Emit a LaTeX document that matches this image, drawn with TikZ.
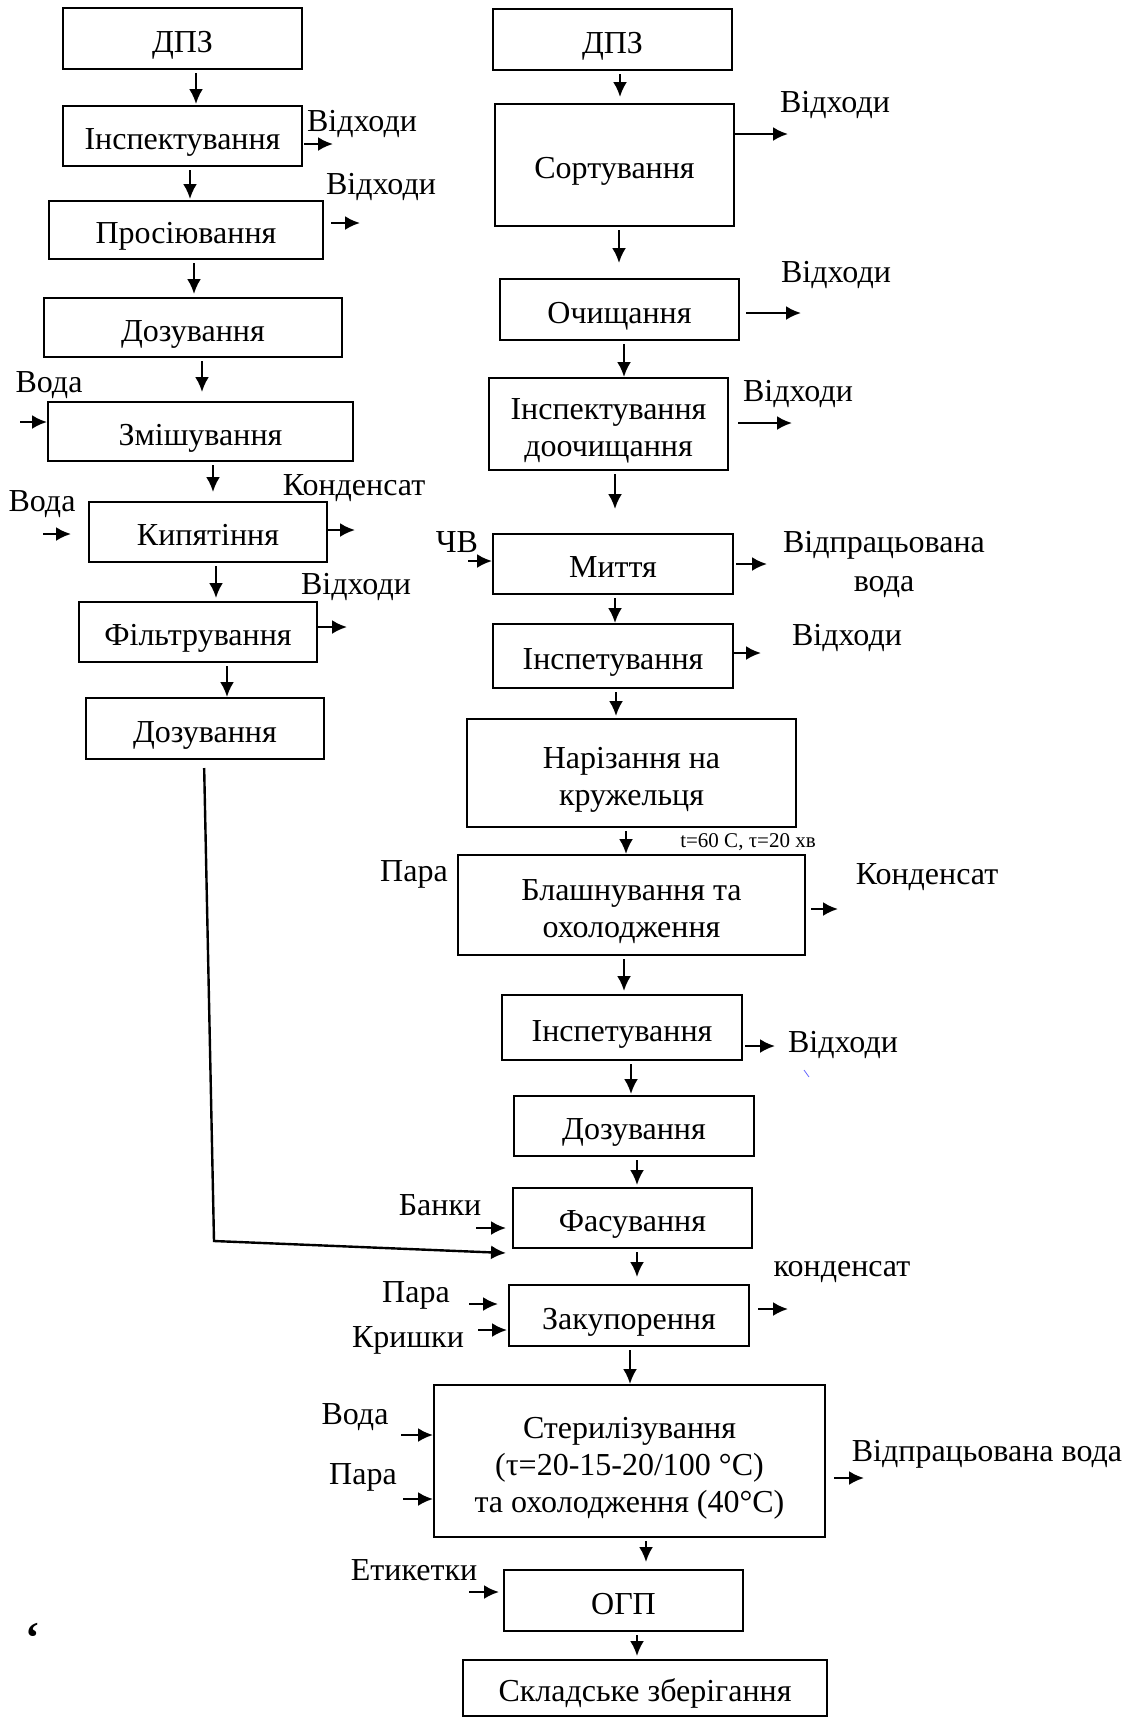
\documentclass[tikz,border=0pt]{standalone}
\usepackage{fontspec}
\setmainfont{Liberation Serif}
\usetikzlibrary{arrows.meta}
\tikzset{>={Latex[length=15pt,width=14pt]}}
\tikzstyle{stage}=[rectangle,draw,line width=2pt,align=center,inner sep=0pt,font=\fontsize{32}{37}\selectfont,
    execute at begin node={\rule[-8pt]{0pt}{43pt}}]
\tikzstyle{lbl}=[inner sep=0pt,align=center,font=\fontsize{32}{39}\selectfont]
\tikzstyle{flow}=[->,line width=2.4pt,shorten <=3pt]
\tikzset{multi/.style={execute at begin node={\rule{0pt}{#1}}}}

\begin{document}
\begin{tikzpicture}[x=1pt,y=-1pt]
    \useasboundingbox (0,0) rectangle (1127,1717);

    % left line: brine
    \node[stage,minimum width=239pt,minimum height=61pt] (dpzL) at (182.5,38.5) {ДПЗ};
    \node[stage,minimum width=239pt,minimum height=60pt] (inspL) at (182.5,136) {Інспектування};
    \node[stage,minimum width=274pt,minimum height=58pt] (sieve) at (186,230) {Просіювання};
    \node[stage,minimum width=298pt,minimum height=59pt] (dosL) at (193,327.5) {Дозування};
    \node[stage,minimum width=305pt,minimum height=59pt] (mix) at (200.5,431.5) {Змішування};
    \node[stage,minimum width=238pt,minimum height=60pt] (boil) at (208,532) {Кипятіння};
    \node[stage,minimum width=238pt,minimum height=60pt] (filt) at (198,632) {Фільтрування};
    \node[stage,minimum width=238pt,minimum height=61pt] (dosL2) at (205,728.5) {Дозування};

    % right line: vegetables
    \node[stage,minimum width=239pt,minimum height=61pt] (dpzR) at (612.5,39.5) {ДПЗ};
    \node[stage,minimum width=239pt,minimum height=122pt] (sort) at (614.5,165) {Сортування};
    \node[stage,minimum width=239pt,minimum height=61pt] (clean) at (619.5,309.5) {Очищання};
    \node[stage,multi=73pt,minimum width=239pt,minimum height=92pt] (inspR) at (608.5,424) {Інспектування\\доочищання};
    \node[stage,minimum width=240pt,minimum height=60pt] (wash) at (613,564) {Миття};
    \node[stage,minimum width=240pt,minimum height=64pt] (insp2) at (613,656) {Інспетування};
    \node[stage,multi=73pt,minimum width=329pt,minimum height=108pt] (cut) at (631.5,773) {Нарізання на\\кружельця};
    \node[stage,multi=73pt,minimum width=347pt,minimum height=100pt] (blanch) at (631.5,905) {Блашнування та\\охолодження};
    \node[stage,minimum width=240pt,minimum height=65pt] (insp3) at (622,1027.5) {Інспетування};
    \node[stage,minimum width=240pt,minimum height=60pt] (dosR) at (634,1126) {Дозування};
    \node[stage,minimum width=239pt,minimum height=60pt] (fill) at (632.5,1218) {Фасування};
    \node[stage,minimum width=240pt,minimum height=61pt] (seal) at (629,1315.5) {Закупорення};
    \node[stage,multi=110pt,minimum width=391pt,minimum height=152pt] (steril) at (629.5,1461) {Стерилізування\\(τ=20-15-20/100 °C)\\та охолодження (40°C)};
    \node[stage,minimum width=239pt,minimum height=61pt] (ogp) at (623.5,1600.5) {ОГП};
    \node[stage,minimum width=364pt,minimum height=56pt] (store) at (645,1688) {Складське зберігання};

    % flow between stages
    \foreach \a/\b/\x/\g in {dpzL/inspL/196/1, inspL/sieve/190/1, sieve/dosL/194/3, dosL/mix/202/9,
        mix/boil/213/9, boil/filt/216/3, filt/dosL2/227/0,
        dpzR/sort/620/6, sort/clean/619/15, clean/inspR/624/0, inspR/wash/615/24, wash/insp2/615/0,
        insp2/cut/616/2, cut/blanch/626/0, blanch/insp3/624/3, insp3/dosR/631/1, dosR/fill/637/2,
        fill/seal/637/7, seal/steril/630/0, steril/ogp/646/7, ogp/store/637/3} {
        \draw[flow,shorten >=\g pt] (\a.south -| \x,0) -- (\b.north -| \x,0);
    };

    % outputs
    \foreach \b/\x/\y/\g in {inspL/333/144/1, sieve/360/223/7, boil/355/530/0, filt/347/627/0,
        sort/788/134/0, clean/801/313/6, inspR/792/423/9, wash/767/564/2, insp2/761/653/0,
        blanch/838/909/5, insp3/775/1046/2, seal/788/1309/8, steril/864/1478/8} {
        \coordinate (out-\b) at (\x,\y);
        \draw[flow,shorten <=\g pt] (\b.east |- out-\b) -- (out-\b);
    };

    % inputs
    \foreach \i/\b/\x/\y/\g in {1/mix/20/422/0, 2/boil/43/534/17, 3/wash/468/561/0, 4/fill/476/1228/6,
        5/seal/469/1304/10, 6/seal/478/1330/1, 7/steril/401/1435/0, 8/steril/403/1499/0, 9/ogp/469/1592/4} {
        \coordinate (in\i) at (\x,\y);
        \draw[flow,shorten <=0pt,shorten >=\g pt] (in\i) -- (\b.west |- in\i);
    };

    % brine goes to filling
    \coordinate (turn) at (214,1241);
    \draw[flow,shorten <=8pt] (dosL2.south -| 204,0) -- (turn) -- ([xshift=-6pt,yshift=-4pt]fill.south west);

    % labels
    \node[lbl] (w1) at (362,124) {Відходи};
    \node[lbl] (w2) at (381,187) {Відходи};
    \node[lbl] (v1) at (49,385) {Вода};
    \node[lbl] (k1) at (354,488) {Конденсат};
    \node[lbl] (v2) at (42,504) {Вода};
    \node[lbl] (w3) at (356,587) {Відходи};

    \node[lbl] (w4) at (835,105) {Відходи};
    \node[lbl] (w5) at (836,275) {Відходи};
    \node[lbl] (w6) at (798,394) {Відходи};
    \node[lbl] (cw) at (457,542) {ЧВ};
    \node[lbl] (ww1) at (884,564) {Відпрацьована\\вода};
    \node[lbl] (w7) at (847,638) {Відходи};
    \node[lbl,font=\fontsize{21}{24}\selectfont] (mode) at (748,842) {t=60 C, τ=20 хв};
    \node[lbl] (p1) at (414,874) {Пара};
    \node[lbl] (k2) at (927,877) {Конденсат};
    \node[lbl] (w8) at (843,1045) {Відходи};
    \node[lbl] (jars) at (440,1205) {Банки};
    \node[lbl] (k3) at (842,1272) {конденсат};
    \node[lbl] (p2) at (416,1295) {Пара};
    \node[lbl] (lids) at (408,1340) {Кришки};
    \node[lbl] (v3) at (355,1417) {Вода};
    \node[lbl] (p3) at (363,1477) {Пара};
    \node[lbl] (ww2) at (987,1454) {Відпрацьована вода};
    \node[lbl] (tags) at (414,1570) {Етикетки};
    \node[lbl,font=\fontsize{44}{44}\bfseries] (q) at (33,1638) {‘};

    \draw[blue!60,line width=0.8pt] (804,1070) -- (809,1077);
\end{tikzpicture}
\end{document}
